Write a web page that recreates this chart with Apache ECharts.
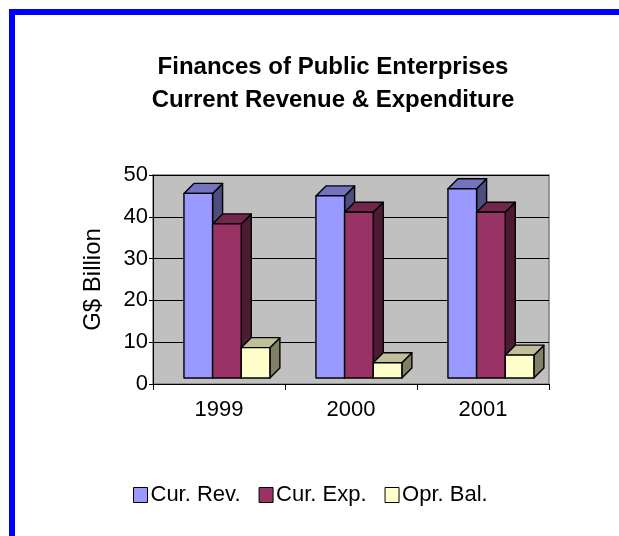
<!DOCTYPE html>
<html>
<head>
<meta charset="utf-8">
<script src="https://cdn.jsdelivr.net/npm/echarts@6/dist/echarts.min.js"></script>
<style>
html,body{margin:0;padding:0;background:#fff;}
#c{width:619px;height:536px;}
</style>
</head>
<body>
<div id="c"></div>
<script>
const categories = ['1999', '2000', '2001'];
const seriesNames = ['Cur. Rev.', 'Cur. Exp.', 'Opr. Bal.'];
const curRev = [45.6, 45.0, 46.7];
const curExp = [38.3, 41.1, 41.1];
const oprBal = [8.7, 5.1, 6.9];
const yTicks = [0, 10, 20, 30, 40, 50];

const FONT = "'Liberation Sans', Arial, sans-serif";
const palettes = [
  {front: '#9999FF', top: '#7373BF', side: '#4D4D80'},
  {front: '#993366', top: '#73264D', side: '#4D1A33'},
  {front: '#FFFFCC', top: '#BFBF99', side: '#808066'}
];
const BAR_RATIO = 0.217;
const SHIFT_RATIO = 0.06;
const DX = 10, DY = 10, LIFT = 6;

function renderItem(params, api) {
  const cat = api.value(0);
  const v = api.value(1);
  const base = api.coord([cat, 0]);
  const topPt = api.coord([cat, v]);
  const band = api.size([1, 0])[0];
  const bw = band * BAR_RATIO;
  const si = params.seriesIndex;
  const pal = palettes[si];
  const x0 = base[0] - 1.5 * bw + band * SHIFT_RATIO + si * bw;
  const x1 = x0 + bw;
  const yb = base[1] - LIFT;
  const yt = topPt[1];
  const stroke = {stroke: '#000', lineWidth: 1.4, lineJoin: 'round'};
  return {
    type: 'group',
    children: [
      {type: 'polygon', shape: {points: [[x1, yt], [x1 + DX, yt - DY], [x1 + DX, yb - DY], [x1, yb]]},
       style: Object.assign({fill: pal.side}, stroke)},
      {type: 'polygon', shape: {points: [[x0, yt], [x0 + DX, yt - DY], [x1 + DX, yt - DY], [x1, yt]]},
       style: Object.assign({fill: pal.top}, stroke)},
      {type: 'rect', shape: {x: x0, y: yt, width: bw, height: yb - yt},
       style: Object.assign({fill: pal.front}, stroke)}
    ]
  };
}

const dataSets = [curRev, curExp, oprBal];
const series = dataSets.map((arr, i) => ({
  type: 'custom',
  name: seriesNames[i],
  renderItem: renderItem,
  itemStyle: {color: palettes[i].front, borderColor: '#000', borderWidth: 1},
  encode: {x: 0, y: 1},
  data: arr.map((v, j) => [j, v])
}));

const chart = echarts.init(document.getElementById('c'), null, {renderer: 'canvas'});
chart.setOption({
  animation: false,
  backgroundColor: '#fff',
  textStyle: {fontFamily: FONT},
  title: {
    text: 'Finances of Public Enterprises\nCurrent Revenue & Expenditure',
    left: 328,
    textAlign: 'center',
    top: 46,
    textStyle: {fontFamily: FONT, fontSize: 24, fontWeight: 'bold', color: '#000', lineHeight: 33}
  },
  graphic: [
    {type: 'rect', shape: {x: 9, y: 9, width: 610, height: 6}, style: {fill: '#0000FF'}},
    {type: 'rect', shape: {x: 9, y: 9, width: 6, height: 527}, style: {fill: '#0000FF'}}
  ],
  legend: {
    data: seriesNames,
    left: 128,
    top: 479,
    itemWidth: 14,
    itemHeight: 15,
    itemGap: 18,
    icon: 'rect',
    itemStyle: {borderColor: '#000', borderWidth: 1},
    textStyle: {fontFamily: FONT, fontSize: 22, color: '#000', padding: [0, 0, 0, -2]}
  },
  grid: {
    left: 153, top: 175, width: 396, height: 209,
    show: true, backgroundColor: '#C0C0C0', borderColor: '#808080', borderWidth: 1.5
  },
  xAxis: {
    type: 'category',
    data: categories,
    boundaryGap: true,
    axisLine: {lineStyle: {color: '#000', width: 1}},
    axisTick: {show: true, interval: 0, length: 6, lineStyle: {color: '#000'}},
    axisLabel: {fontFamily: FONT, fontSize: 22, color: '#000', margin: 15},
    splitLine: {show: false}
  },
  yAxis: {
    type: 'value',
    min: yTicks[0], max: yTicks[yTicks.length - 1], interval: 10,
    name: 'G$ Billion',
    nameLocation: 'middle',
    nameRotate: 90,
    nameGap: 48,
    nameTextStyle: {fontFamily: FONT, fontSize: 24, color: '#000'},
    axisLine: {show: true, lineStyle: {color: '#000', width: 1}},
    axisTick: {show: true, length: 4, lineStyle: {color: '#000'}},
    axisLabel: {fontFamily: FONT, fontSize: 22, color: '#000', margin: 5},
    splitLine: {show: true, lineStyle: {color: '#000', width: 1}}
  },
  series: series
});
</script>
</body>
</html>
